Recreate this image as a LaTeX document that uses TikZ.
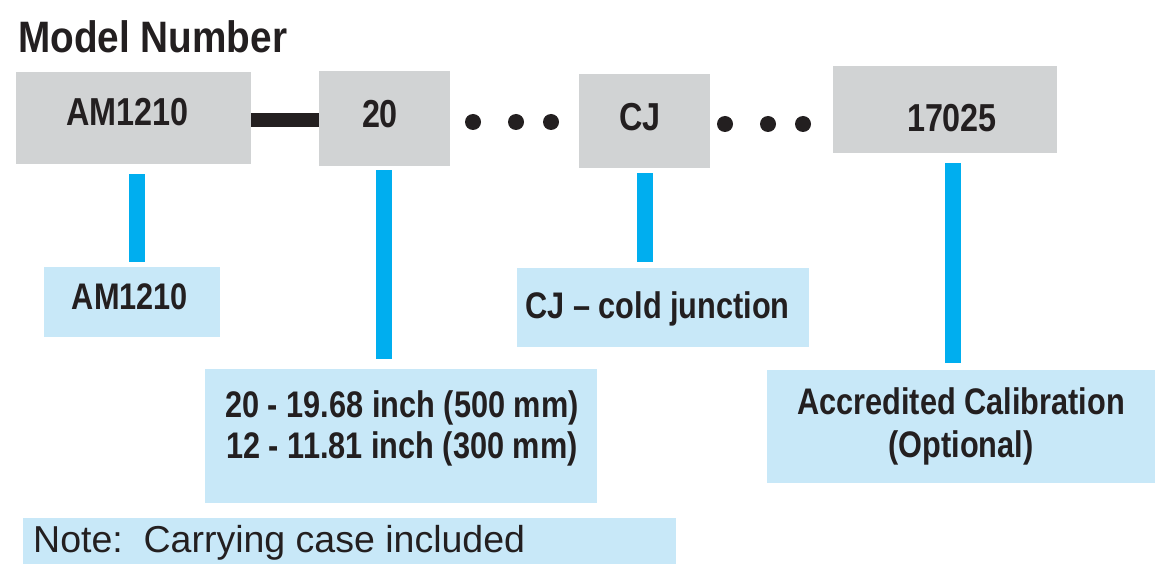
\documentclass[tikz,border=0pt]{standalone}
\usepackage{fontspec}
\usepackage{tikz}
\setmainfont{Liberation Sans}
\newfontfamily\condsans[FakeStretch=0.83]{Liberation Sans Bold}
\newfontfamily\titlesans[FakeStretch=0.88]{Liberation Sans Bold}
\definecolor{boxgray}{HTML}{D1D3D4}
\definecolor{boxblue}{HTML}{C8E8F8}
\definecolor{linecyan}{HTML}{00AEEF}
\definecolor{inkdark}{HTML}{231F20}
\tikzset{graybox/.style={fill=boxgray,draw=none,inner sep=0pt},
 bluebox/.style={fill=boxblue,draw=none,inner sep=0pt},
 codetext/.style={text=inkdark,inner sep=0pt,anchor=base,
   font=\condsans\fontsize{39}{44}\selectfont},
 desctext/.style={text=inkdark,inner sep=0pt,anchor=base,align=center,
   font=\condsans\fontsize{37}{41.5}\selectfont},
 stem/.style={draw=linecyan,line width=16pt},
 bar/.style={draw=inkdark,line width=14pt},
 }

\begin{document}
\begin{tikzpicture}[x=1pt,y=-1pt]
        \useasboundingbox (0,0) rectangle (1170,585);
        \node[text=inkdark,inner sep=0pt,anchor=base west,
          font=\titlesans\fontsize{44}{48}\selectfont] (title) at (18,53) {Model Number};
        \node[graybox,minimum width=235pt,minimum height=92pt] (gAM) at (133.5,118) {};
        \node[graybox,minimum width=131pt,minimum height=95pt] (gLen) at (384.5,118.5) {};
        \node[graybox,minimum width=131pt,minimum height=94pt] (gCJ) at (644.5,121) {};
        \node[graybox,minimum width=224pt,minimum height=87pt] (gCal) at (945,109.5) {};
        \node[codetext] (tAM) at (127.5,126) {AM1210};
        \node[codetext] (tLen) at (380,128) {20};
        \node[codetext] (tCJ) at (640,131) {CJ};
        \node[codetext] (tCal) at (952,132) {17025};
        \draw[bar] ([yshift=-2.5pt]gAM.east) -- ([yshift=-2pt]gLen.west);
        \foreach \x in {473,516,551} \fill[inkdark] (\x,122) circle (8);
        \foreach \x in {725,768,803} \fill[inkdark] (\x,124) circle (8);
        \node[bluebox,minimum width=176pt,minimum height=70pt] (bAM) at (132,302) {};
        \node[bluebox,minimum width=292pt,minimum height=79pt] (bCJ) at (663,307.5) {};
        \node[bluebox,minimum width=392pt,minimum height=134pt] (bLen) at (401,436) {};
        \node[bluebox,minimum width=388pt,minimum height=113pt] (bCal) at (961,426.5) {};
        \node[bluebox,minimum width=653pt,minimum height=46pt] (bNote) at (349.5,541) {};
        \node[desctext] (dAM) at (130,310) {AM1210};
        \node[desctext] (dCJ) at (657.5,319) {CJ – cold junction};
        \node[desctext] (dLenA) at (402,417) {20 - 19.68 inch (500 mm)};
        \node[desctext] (dLenB) at (402,458) {12 - 11.81 inch (300 mm)};
        \node[desctext] (dCalA) at (961,414) {Accredited Calibration};
        \node[desctext] (dCalB) at (961,457) {(Optional)};
        \node[text=inkdark,inner sep=0pt,anchor=base west,
          font=\fontsize{37.5}{42}\selectfont] (dNote) at (33,552) {Note:\ \ Carrying case included};
        \draw[stem] ([xshift=3.5pt,yshift=-10pt]gAM.south) -- ([xshift=5pt,yshift=5pt]bAM.north);
        \draw[stem] ([xshift=-0.5pt,yshift=-4pt]gLen.south) -- ([xshift=-17pt,yshift=10pt]bLen.north);
        \draw[stem] ([yshift=-5pt]gCJ.south) -- ([xshift=-18.5pt,yshift=6pt]bCJ.north);
        \draw[stem] ([xshift=8pt,yshift=-10pt]gCal.south) -- ([xshift=-8pt,yshift=7pt]bCal.north);
    \end{tikzpicture}
\end{document}
